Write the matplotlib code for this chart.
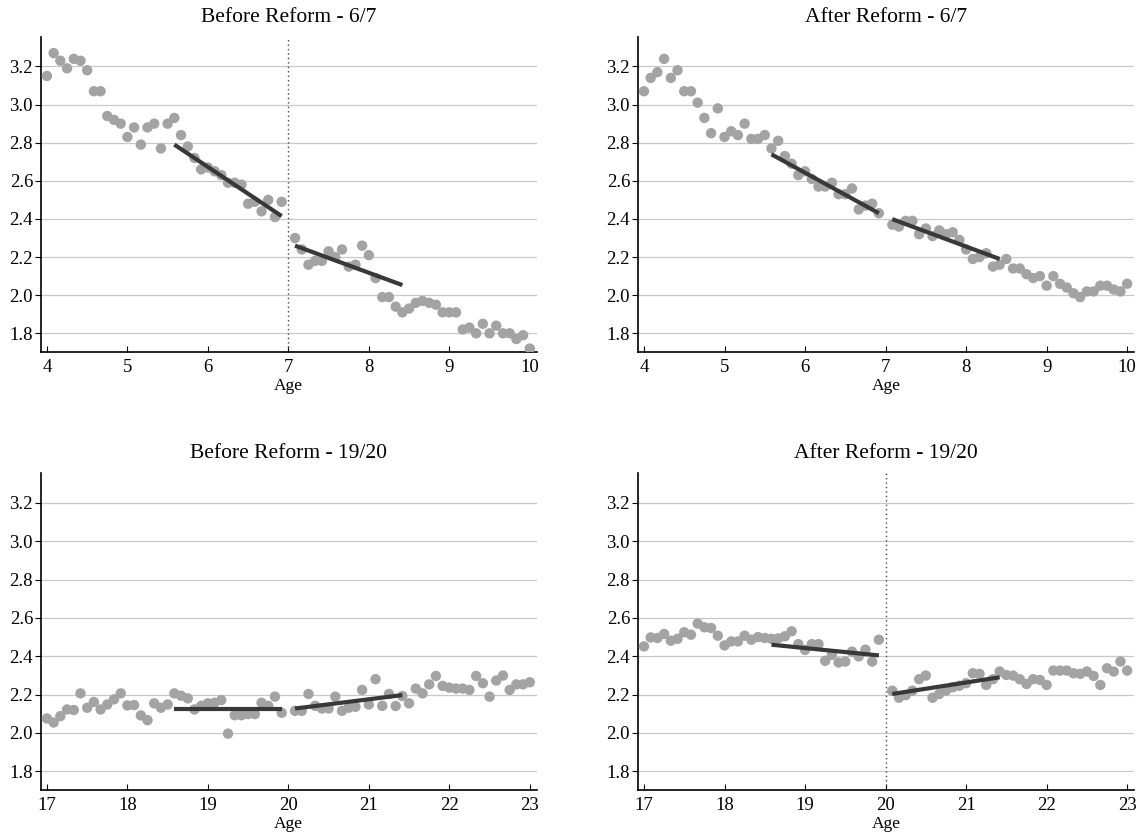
import numpy as np
import matplotlib
matplotlib.use("Agg")
import matplotlib.pyplot as plt

plt.rcParams['font.family'] = ['Liberation Serif', 'DejaVu Serif']

# ages in months, the cutoff month itself is left out
months_young = [m for m in range(48, 121) if m != 84]
months_old = [m for m in range(204, 277) if m != 240]

# Before Reform - 6/7
before_67 = [3.15, 3.27, 3.23, 3.19, 3.24, 3.23, 3.18, 3.07, 3.07, 2.94, 2.92, 2.90,
             2.83, 2.88, 2.79, 2.88, 2.90, 2.77, 2.90, 2.93, 2.84, 2.78, 2.72, 2.66,
             2.67, 2.65, 2.63, 2.59, 2.59, 2.58, 2.48, 2.49, 2.44, 2.50, 2.41, 2.49,
             2.30, 2.24, 2.16, 2.18, 2.18, 2.23, 2.20, 2.24, 2.15, 2.16, 2.26, 2.21,
             2.09, 1.99, 1.99, 1.94, 1.91, 1.93, 1.96, 1.97, 1.96, 1.95, 1.91, 1.91,
             1.91, 1.82, 1.83, 1.80, 1.85, 1.80, 1.84, 1.80, 1.80, 1.77, 1.79, 1.72]

# After Reform - 6/7
after_67 = [3.07, 3.14, 3.17, 3.24, 3.14, 3.18, 3.07, 3.07, 3.01, 2.93, 2.85, 2.98,
            2.83, 2.86, 2.84, 2.90, 2.82, 2.82, 2.84, 2.77, 2.81, 2.73, 2.69, 2.63,
            2.65, 2.61, 2.57, 2.57, 2.59, 2.53, 2.53, 2.56, 2.45, 2.47, 2.48, 2.43,
            2.37, 2.36, 2.39, 2.39, 2.32, 2.35, 2.31, 2.34, 2.32, 2.33, 2.29, 2.24,
            2.19, 2.20, 2.22, 2.15, 2.16, 2.19, 2.14, 2.14, 2.11, 2.09, 2.10, 2.05,
            2.10, 2.06, 2.04, 2.01, 1.99, 2.02, 2.02, 2.05, 2.05, 2.03, 2.02, 2.06]

# Before Reform - 19/20
before_1920 = [2.075, 2.054, 2.087, 2.122, 2.119, 2.206, 2.131, 2.161, 2.122, 2.148, 2.175, 2.206,
               2.143, 2.145, 2.091, 2.066, 2.154, 2.131, 2.148, 2.206, 2.194, 2.180, 2.122, 2.141,
               2.154, 2.157, 2.171, 1.996, 2.092, 2.092, 2.098, 2.098, 2.157, 2.141, 2.189, 2.105,
               2.115, 2.115, 2.203, 2.141, 2.127, 2.127, 2.189, 2.115, 2.131, 2.136, 2.224, 2.148,
               2.280, 2.141, 2.203, 2.140, 2.192, 2.154, 2.231, 2.206, 2.253, 2.297, 2.245, 2.236,
               2.231, 2.231, 2.224, 2.297, 2.259, 2.189, 2.273, 2.299, 2.224, 2.253, 2.253, 2.264]

# After Reform - 19/20
after_1920 = [2.451, 2.498, 2.495, 2.516, 2.481, 2.491, 2.525, 2.512, 2.570, 2.551, 2.547, 2.507,
              2.456, 2.477, 2.477, 2.507, 2.486, 2.500, 2.495, 2.491, 2.493, 2.504, 2.530, 2.463,
              2.433, 2.463, 2.463, 2.376, 2.407, 2.367, 2.372, 2.424, 2.399, 2.434, 2.372, 2.486,
              2.220, 2.183, 2.197, 2.220, 2.280, 2.299, 2.183, 2.203, 2.220, 2.238, 2.246, 2.259,
              2.311, 2.308, 2.250, 2.280, 2.320, 2.302, 2.299, 2.280, 2.255, 2.280, 2.276, 2.250,
              2.325, 2.325, 2.325, 2.311, 2.308, 2.320, 2.297, 2.250, 2.337, 2.320, 2.372, 2.325]

# local linear fits either side of the cutoff: (x0, x1, y0, y1)
fits_before_67 = [(5.583, 6.917, 2.790, 2.415), (7.083, 8.417, 2.260, 2.053)]
fits_after_67 = [(5.583, 6.917, 2.739, 2.430), (7.083, 8.417, 2.399, 2.190)]
fits_before_1920 = [(18.583, 19.917, 2.124, 2.124), (20.083, 21.417, 2.127, 2.197)]
fits_after_1920 = [(18.583, 19.917, 2.460, 2.404), (20.083, 21.417, 2.203, 2.290)]

panels = [
    ("Before Reform - 6/7", months_young, before_67, fits_before_67, 7, True, [4, 5, 6, 7, 8, 9, 10]),
    ("After Reform - 6/7", months_young, after_67, fits_after_67, 7, False, [4, 5, 6, 7, 8, 9, 10]),
    ("Before Reform - 19/20", months_old, before_1920, fits_before_1920, 20, False, [17, 18, 19, 20, 21, 22, 23]),
    ("After Reform - 19/20", months_old, after_1920, fits_after_1920, 20, True, [17, 18, 19, 20, 21, 22, 23]),
]

positions = [
    [0.0356, 0.580, 0.4343, 0.376],
    [0.5584, 0.580, 0.4346, 0.376],
    [0.0356, 0.058, 0.4343, 0.378],
    [0.5584, 0.058, 0.4346, 0.378],
]

fig = plt.figure(figsize=(11.42, 8.39), dpi=100)

for (title, months, vals, fits, cutoff, show_cut, xt), pos in zip(panels, positions):
    ax = fig.add_axes(pos)
    ages = np.array(months) / 12.0
    ax.scatter(ages, vals, s=56, color="#a3a3a3", edgecolors="none", zorder=3)
    for x0, x1, y0, y1 in fits:
        ax.plot([x0, x1], [y0, y1], color="#383838", lw=3.0, solid_capstyle="butt", zorder=4)
    if show_cut:
        ax.axvline(cutoff, color="#444444", lw=1.0, ls=(0, (1, 2.2)), zorder=2)

    ax.set_xlim(xt[0] - 0.078, xt[-1] + 0.085)
    ax.set_ylim(1.70, 3.355)
    ax.set_xticks(xt)
    ax.set_yticks([1.8, 2.0, 2.2, 2.4, 2.6, 2.8, 3.0, 3.2])
    ax.set_yticklabels(["1.8", "2.0", "2.2", "2.4", "2.6", "2.8", "3.0", "3.2"])
    ax.yaxis.grid(True, color="#c8c8c8", lw=0.9)
    ax.set_axisbelow(True)
    ax.spines["top"].set_visible(False)
    ax.spines["right"].set_visible(False)
    ax.spines["left"].set_linewidth(1.2)
    ax.spines["bottom"].set_linewidth(1.2)
    ax.tick_params(axis="x", direction="in", length=4, width=0.8, labelsize=13.5, pad=5)
    ax.tick_params(axis="y", direction="out", length=4, width=0.8, labelsize=13.5, pad=1.5)
    ax.set_xlabel("Age", fontsize=12.5, labelpad=1)
    ax.set_title(title, fontsize=15.5, pad=11)

fig.savefig("out.png", dpi=100)
